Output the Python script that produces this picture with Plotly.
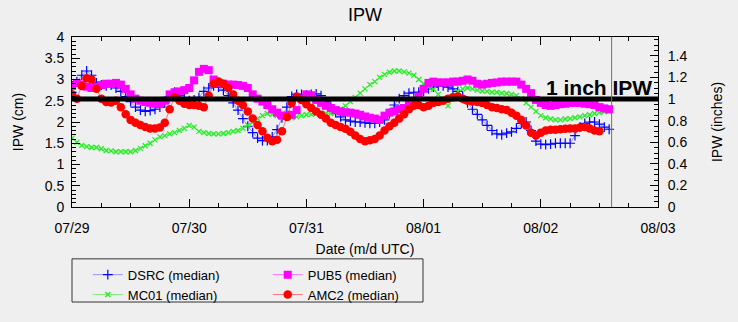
import pandas as pd
import plotly.graph_objects as go

start = "2019-07-29 00:00"

dsrc = [2.70, 2.95, 3.10, 3.20, 3.10, 2.92, 2.87, 2.85, 2.87, 2.80,
        2.72, 2.60, 2.48, 2.35, 2.28, 2.25, 2.27, 2.30, 2.35, 2.45,
        2.60, 2.70, 2.62, 2.55, 2.50, 2.52, 2.58, 2.72, 2.80, 2.85,
        2.82, 2.75, 2.62, 2.45, 2.28, 2.08, 1.90, 1.75, 1.62, 1.56,
        1.56, 1.65, 1.82, 2.10, 2.35, 2.60, 2.65, 2.65, 2.63, 2.65,
        2.66, 2.62, 2.48, 2.35, 2.22, 2.12, 2.05, 2.02, 2.00, 2.00,
        1.98, 1.97, 1.97, 2.00, 2.05, 2.20, 2.40, 2.55, 2.62, 2.68,
        2.70, 2.70, 2.72, 2.78, 2.82, 2.85, 2.85, 2.82, 2.78, 2.72,
        2.60, 2.45, 2.30, 2.18, 2.05, 1.92, 1.80, 1.72, 1.70, 1.74,
        1.77, 1.85, 1.97, 2.00, 1.80, 1.55, 1.48, 1.47, 1.48, 1.50,
        1.50, 1.50, 1.50, 1.68, 1.88, 1.97, 2.00, 2.00, 1.95, 1.88,
        1.83]

mc01 = [1.62, 1.52, 1.45, 1.42, 1.40, 1.40, 1.37, 1.33, 1.32, 1.30,
        1.30, 1.30, 1.30, 1.33, 1.38, 1.44, 1.50, 1.58, 1.65, 1.68,
        1.72, 1.75, 1.80, 1.85, 1.92, 1.88, 1.78, 1.75, 1.73, 1.72,
        1.72, 1.73, 1.75, 1.78, 1.80, 1.85, 1.92, 2.00, 2.08, 2.15,
        2.20, 2.18, 2.15, 2.13, 2.12, 2.10, 2.12, 2.15, 2.17, 2.18,
        2.20, 2.20, 2.20, 2.20, 2.22, 2.30, 2.38, 2.48, 2.58, 2.68,
        2.78, 2.88, 2.95, 3.05, 3.12, 3.17, 3.20, 3.20, 3.18, 3.15,
        3.10, 3.00, 2.90, 2.82, 2.77, 2.65, 2.48, 2.38, 2.55, 2.72,
        2.78, 2.80, 2.78, 2.75, 2.73, 2.72, 2.70, 2.70, 2.68, 2.67,
        2.65, 2.62, 2.55, 2.45, 2.35, 2.25, 2.15, 2.10, 2.07, 2.05,
        2.05, 2.07, 2.08, 2.10, 2.12, 2.15, 2.17, 2.20, 2.22, 2.24,
        2.25]

pub5 = [2.85, 2.92, 2.88, 2.83, 2.80, 2.83, 2.87, 2.90, 2.90, 2.92,
        2.88, 2.78, 2.65, 2.55, 2.50, 2.47, 2.45, 2.43, 2.42, 2.50,
        2.65, 2.70, 2.72, 2.75, 2.80, 2.98, 3.18, 3.25, 3.22, 3.00,
        2.92, 2.90, 2.88, 2.88, 2.87, 2.85, 2.80, 2.65, 2.55, 2.48,
        2.40, 2.30, 2.22, 2.15, 2.15, 2.17, 2.28, 2.55, 2.65, 2.63,
        2.52, 2.45, 2.38, 2.33, 2.28, 2.25, 2.23, 2.22, 2.20, 2.17,
        2.13, 2.10, 2.08, 2.05, 2.15, 2.22, 2.25, 2.30, 2.33, 2.40,
        2.48, 2.60, 2.78, 2.92, 2.95, 2.93, 2.93, 2.93, 2.95, 2.95,
        2.97, 3.00, 2.97, 2.90, 2.88, 2.90, 2.92, 2.93, 2.95, 2.95,
        2.95, 2.95, 2.88, 2.78, 2.68, 2.52, 2.45, 2.40, 2.38, 2.40,
        2.42, 2.43, 2.45, 2.45, 2.45, 2.43, 2.42, 2.40, 2.35, 2.32,
        2.30]

amc2 = [2.65, 2.55, 2.85, 3.03, 3.00, 2.78, 2.55, 2.47, 2.46, 2.50,
        2.35, 2.18, 2.05, 1.98, 1.93, 1.88, 1.85, 1.85, 1.87, 1.98,
        2.30, 2.58, 2.50, 2.43, 2.40, 2.40, 2.38, 2.35, 2.62, 2.90,
        2.95, 2.90, 2.80, 2.65, 2.50, 2.40, 2.25, 2.08, 1.93, 1.78,
        1.63, 1.55, 1.58, 1.78, 2.12, 2.45, 2.60, 2.52, 2.42, 2.33,
        2.25, 2.17, 2.08, 1.98, 1.93, 1.88, 1.84, 1.77, 1.68, 1.60,
        1.55, 1.57, 1.60, 1.68, 1.80, 1.90, 1.98, 2.08, 2.18, 2.30,
        2.38, 2.40, 2.35, 2.38, 2.45, 2.47, 2.50, 2.55, 2.58, 2.60,
        2.55, 2.50, 2.48, 2.47, 2.45, 2.40, 2.35, 2.33, 2.30, 2.28,
        2.22, 2.15, 2.05, 1.92, 1.75, 1.68, 1.75, 1.80, 1.82, 1.82,
        1.83, 1.84, 1.85, 1.85, 1.87, 1.88, 1.85, 1.80, 1.78]

tick_days = ["2019-07-29", "2019-07-30", "2019-07-31", "2019-08-01", "2019-08-02", "2019-08-03"]
now_time = "2019-08-02 14:30"
one_inch_cm = 2.54
cm_per_inch = 2.54

FONT = "Liberation Sans, Arial, sans-serif"
BG = "#efefef"


def times(n):
    return pd.date_range(start, periods=n, freq="h")


fig = go.Figure()

fig.add_trace(go.Scatter(
    x=times(len(dsrc)), y=dsrc, name="DSRC (median)", mode="lines+markers",
    line=dict(color="rgba(80,80,255,0.55)", width=1),
    marker=dict(symbol="cross-thin", size=7, color="#0000ff",
                line=dict(color="#0000ff", width=1.2)),
    legend="legend"))
fig.add_trace(go.Scatter(
    x=times(len(mc01)), y=mc01, name="MC01 (median)", mode="lines+markers",
    line=dict(color="rgba(40,230,40,0.55)", width=1),
    marker=dict(symbol="x-thin", size=5, color="#22ee22",
                line=dict(color="#22ee22", width=1.3)),
    legend="legend"))
fig.add_trace(go.Scatter(
    x=times(len(pub5)), y=pub5, name="PUB5 (median)", mode="lines+markers",
    line=dict(color="rgba(255,0,255,0.5)", width=1),
    marker=dict(symbol="square", size=8, color="#ff00ff"),
    legend="legend2"))
fig.add_trace(go.Scatter(
    x=times(len(amc2)), y=amc2, name="AMC2 (median)", mode="lines+markers",
    line=dict(color="rgba(255,0,0,0.5)", width=1),
    marker=dict(symbol="circle", size=8.5, color="#ff0000"),
    legend="legend2"))

# invisible trace to activate the inches axis
fig.add_trace(go.Scatter(x=[tick_days[0]], y=[0], yaxis="y2", mode="markers",
                         marker=dict(opacity=0), showlegend=False, hoverinfo="skip"))

fig.add_shape(type="line", xref="paper", x0=0, x1=1, yref="y",
              y0=one_inch_cm, y1=one_inch_cm,
              line=dict(color="black", width=5), layer="above")
fig.add_shape(type="line", xref="x", x0=now_time, x1=now_time, yref="paper",
              y0=0, y1=1, line=dict(color="#707070", width=1), layer="above")
# legend frame
fig.add_shape(type="rect", xref="paper", yref="paper",
              x0=0, x1=0.599, y0=-0.559, y1=-0.305,
              line=dict(color="#333333", width=1))

fig.add_annotation(text="<b>1 inch IPW</b>", x=0.994, xref="paper", xanchor="right",
                   y=one_inch_cm, yref="y", yanchor="bottom", yshift=-2,
                   showarrow=False, font=dict(family=FONT, size=21, color="black"))

axis_common = dict(showline=True, linecolor="black", linewidth=1, ticks="inside",
                   tickcolor="black", showgrid=False, zeroline=False,
                   tickfont=dict(family=FONT, size=14, color="black"))

fig.update_layout(
    width=738, height=322,
    margin=dict(l=72, r=80, t=37, b=108),
    paper_bgcolor=BG, plot_bgcolor=BG,
    font=dict(family=FONT, size=14, color="black"),
    title=dict(text="IPW", x=0.4945, xanchor="center", y=0.955, yanchor="middle",
               font=dict(family=FONT, size=18, color="black")),
    xaxis=dict(axis_common, type="date", range=[tick_days[0], tick_days[-1]],
               tickvals=tick_days, tickformat="%m/%d", ticklen=8, mirror="ticks",
               ticklabelstandoff=8,
               minor=dict(dtick=6 * 3600 * 1000, ticks="inside", ticklen=4, tickcolor="black"),
               title=dict(text="Date (m/d UTC)", standoff=9,
                          font=dict(family=FONT, size=14, color="black"))),
    yaxis=dict(axis_common, range=[0, 4], dtick=0.5, ticklen=8, ticklabelstandoff=4,
               minor=dict(dtick=0.1, ticks="inside", ticklen=4, tickcolor="black"),
               title=dict(text="IPW (cm)", standoff=17,
                          font=dict(family=FONT, size=14, color="black"))),
    yaxis2=dict(axis_common, overlaying="y", side="right",
                range=[0, 4 / cm_per_inch], dtick=0.2, ticklen=8, ticklabelstandoff=6,
                minor=dict(dtick=0.05, ticks="inside", ticklen=4, tickcolor="black"),
                title=dict(text="IPW (inches)", standoff=25,
                           font=dict(family=FONT, size=14, color="black"))),
    legend=dict(x=0.027, y=-0.31, xanchor="left", yanchor="top",
                bgcolor="rgba(0,0,0,0)", font=dict(family=FONT, size=13),
                tracegroupgap=0),
    legend2=dict(x=0.334, y=-0.31, xanchor="left", yanchor="top",
                 bgcolor="rgba(0,0,0,0)", font=dict(family=FONT, size=13),
                 tracegroupgap=0),
)

fig.write_html("out.html")
